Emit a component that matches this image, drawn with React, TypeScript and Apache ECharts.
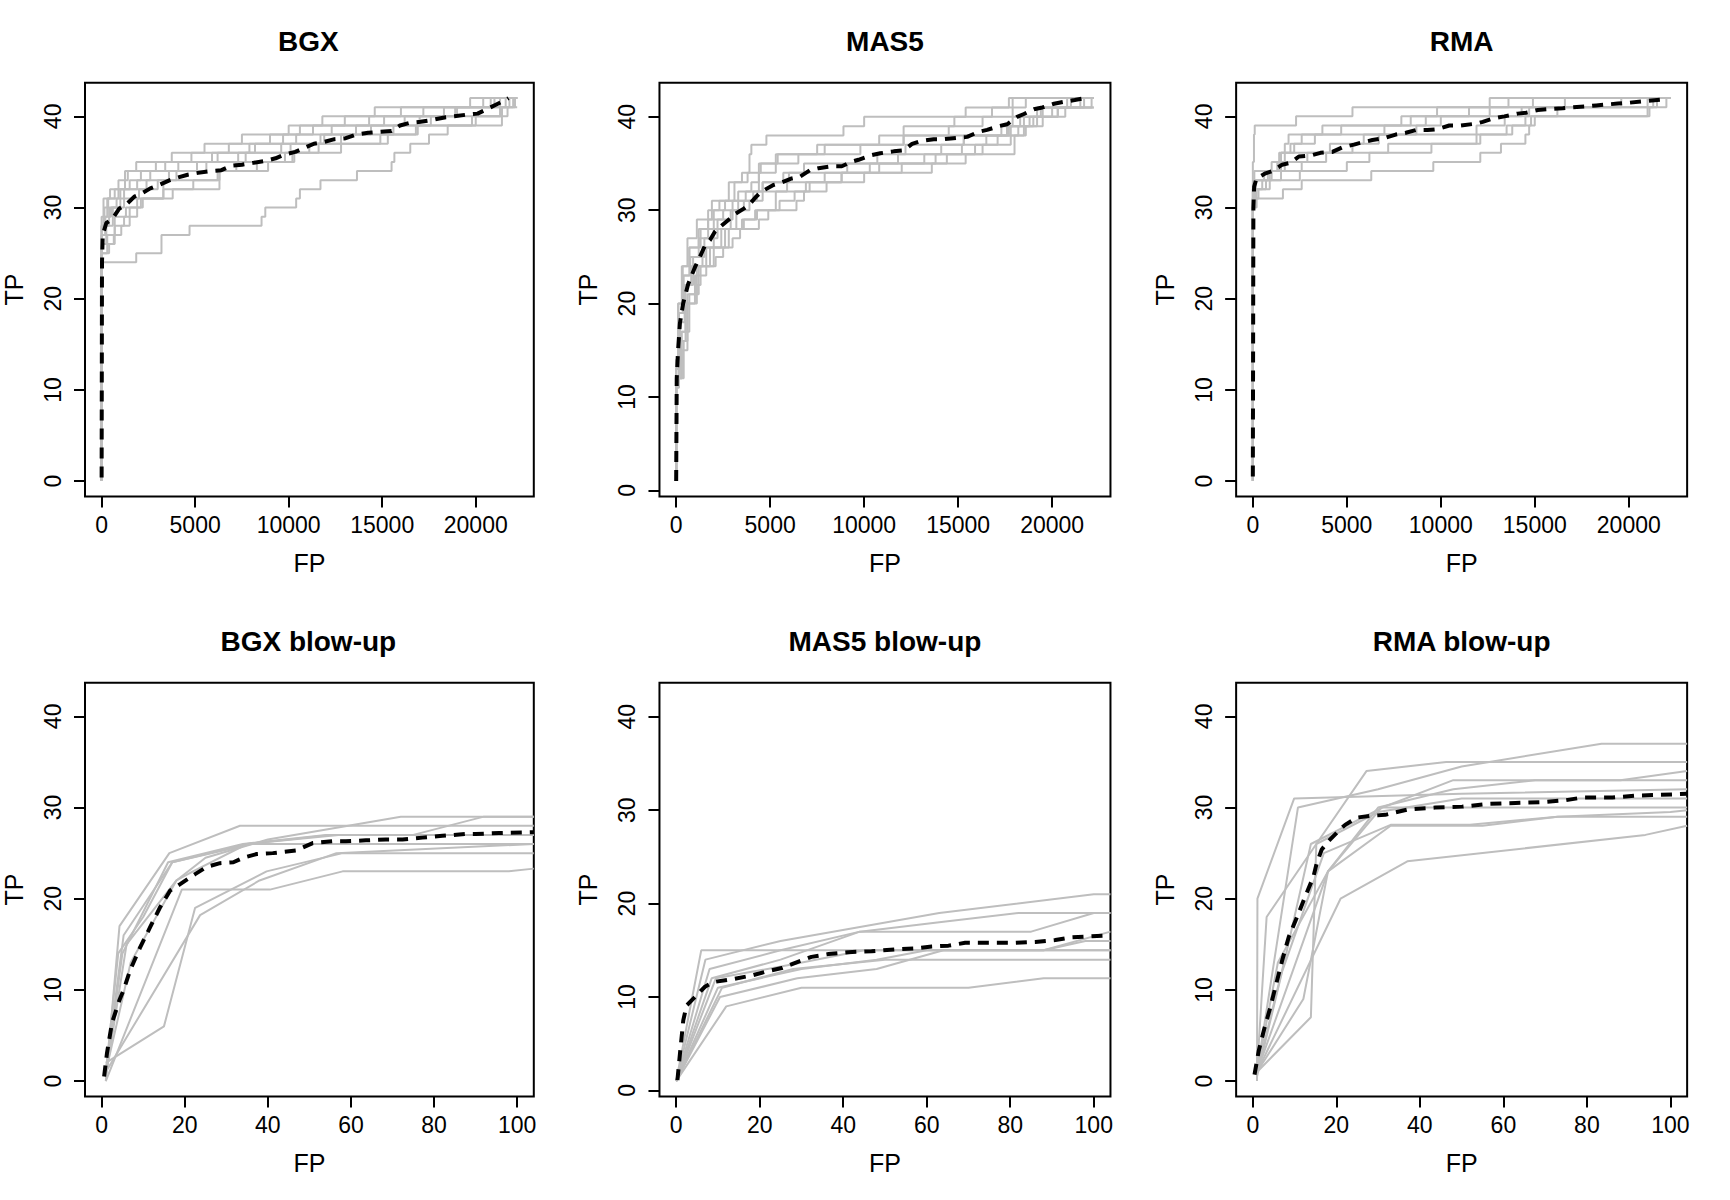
import React, { useEffect, useRef } from "react";
import * as echarts from "echarts";

// ---------- data ----------
const panelTitles = ["BGX", "MAS5", "RMA", "BGX blow-up", "MAS5 blow-up", "RMA blow-up"];
const fpTicksFull = [0, 5000, 10000, 15000, 20000];
const fpTicksBlow = [0, 20, 40, 60, 80, 100];
const tpTicks = [0, 10, 20, 30, 40];
const fpRangeFull = [0, 22215];
const fpRangeBlow = [0, 100];
const tpRangeFrom0 = [0, 42];
const tpRangeFrom1 = [1, 42];

const bgxRuns = [
  [[0,0],[0,29],[100,31],[450,32],[1250,34],[1850,35],[3750,36],[5500,37],[7500,38],[10000,39],[11800,40],[14600,41],[19700,42],[22215,42]],
  [[0,0],[0,28],[150,30],[350,31],[900,33],[1400,34],[2900,35],[4800,36],[6800,37],[9000,38],[10600,39],[13000,40],[17200,41],[20400,42],[22215,42]],
  [[0,0],[0,27],[200,29],[500,30],[1000,32],[1900,33],[2600,34],[4100,35],[6200,36],[8200,37],[10400,38],[12300,39],[15100,40],[18300,41],[21000,42],[22215,42]],
  [[0,0],[0,26],[250,28],[600,30],[1200,31],[2000,32],[3000,33],[4000,34],[5600,35],[7700,36],[10100,37],[11700,38],[14400,39],[17000,40],[19000,41],[21800,42],[22215,42]],
  [[0,0],[0,26],[300,27],[700,29],[1300,30],[2100,31],[3300,32],[4900,33],[6300,34],[8300,35],[10200,36],[12800,37],[15300,38],[16900,39],[20000,40],[21300,41],[22000,42],[22215,42]],
  [[0,0],[0,25],[300,26],[650,27],[1050,28],[1500,30],[2200,31],[3300,33],[6200,34],[8900,35],[10300,36],[11100,37],[12800,38],[15600,39],[17600,40],[21700,41],[22215,41]],
  [[0,0],[0,25],[400,26],[700,28],[1200,29],[1900,31],[3800,32],[6300,34],[7200,35],[9800,36],[11600,37],[14900,38],[16800,39],[19800,40],[21400,41],[22100,42],[22215,42]],
  [[0,0],[0,24],[1850,25],[3200,27],[4700,28],[8550,29],[8750,30],[10400,31],[10600,32],[11700,33],[13650,34],[15500,35],[15650,36],[16500,37],[17500,38],[18500,39],[21400,41],[21600,42],[22215,42]],
  [[0,0],[0,27],[200,28],[400,30],[800,31],[1200,32],[2400,33],[3600,34],[5100,35],[7300,36],[9600,37],[11900,38],[13600,39],[16200,40],[18900,41],[20800,42],[22215,42]],
  [[0,0],[0,28],[100,29],[300,31],[700,32],[1500,33],[2100,34],[3400,35],[5900,36],[7900,37],[9700,38],[11300,39],[14300,40],[16000,41],[21300,42],[22215,42]],
];
const bgxMean = [[0,0.4],[20,24],[60,27],[250,28.3],[550,28.7],[950,29.9],[1300,30.3],[1750,31.2],[2100,31.5],[2600,32.1],[3100,32.5],[3650,33.0],[4100,33.3],[4600,33.6],[5150,33.8],[5800,34.0],[6400,34.1],[6950,34.6],[7500,34.7],[8100,34.9],[8700,35.1],[9300,35.4],[9750,35.8],[10350,36.1],[10800,36.5],[11350,37.0],[11900,37.2],[12450,37.5],[13050,37.6],[13600,38.0],[14250,38.2],[14900,38.3],[15500,38.4],[15950,39.0],[16500,39.3],[17050,39.4],[17650,39.6],[18400,39.9],[18850,40.0],[19550,40.2],[20100,40.3],[20700,40.9],[21100,41.3],[21500,41.7],[21750,42]];

const mas5Runs = [
  [[0,1],[0,14],[100,20],[300,24],[600,27],[1100,29],[1900,31],[2800,33],[3500,34],[3900,36],[4000,37],[4800,38],[8900,39],[10000,40],[15400,41],[17700,42],[22215,42]],
  [[0,1],[0,12],[150,19],[400,23],[700,26],[1300,28],[2000,30],[2600,31],[3300,32],[4000,33],[4400,35],[5400,36],[7500,37],[12100,38],[14500,39],[16300,40],[17900,41],[18600,42],[22215,42]],
  [[0,1],[0,12],[200,17],[500,22],[900,25],[1500,27],[2200,29],[3000,31],[3700,32],[4400,34],[5300,35],[6500,36],[9800,37],[12100,38],[17300,39],[17900,40],[19500,41],[20800,42],[22215,42]],
  [[0,1],[0,13],[250,16],[500,20],[1000,23],[1600,26],[2400,28],[3200,30],[3900,31],[4600,33],[5700,34],[6800,35],[10700,36],[12200,37],[15300,38],[17700,39],[18300,40],[20000,41],[21500,42],[22215,42]],
  [[0,1],[0,12],[300,15],[600,21],[1100,24],[1800,26],[2600,28],[3500,29],[4300,30],[5300,32],[6900,33],[8800,34],[10800,35],[13800,36],[15200,37],[16500,38],[18200,39],[18800,40],[20700,41],[21700,42],[22215,42]],
  [[0,1],[0,12],[400,16],[600,20],[1100,22],[1300,24],[2100,25],[2500,26],[3000,27],[3400,28],[4400,29],[4900,30],[6400,31],[6800,32],[8000,33],[10000,34],[13600,35],[15400,36],[18000,38],[18500,39],[19000,40],[19400,41],[22215,41]],
  [[0,1],[0,13],[200,18],[450,22],[800,24],[1400,26],[2000,28],[2900,30],[3600,31],[4300,32],[5900,33],[7900,34],[10300,35],[13200,36],[15900,37],[17100,38],[17800,39],[19200,40],[20300,41],[22100,42],[22215,42]],
  [[0,1],[0,11],[150,19],[350,23],[750,25],[1200,27],[1700,29],[2500,30],[3300,31],[4100,32],[4600,33],[6000,34],[9100,35],[11800,36],[14100,37],[15300,38],[17600,39],[18500,40],[19200,41],[21000,42],[22215,42]],
  [[0,1],[0,13],[120,20],[350,24],[700,26],[1200,28],[1700,30],[2300,31],[3100,33],[3800,34],[4500,35],[5300,36],[7900,37],[10800,38],[12100,39],[14800,40],[16800,41],[17900,42],[22215,42]],
  [[0,1],[0,12],[300,17],[700,21],[1200,24],[2000,26],[2800,28],[3600,29],[4200,30],[5500,31],[6300,32],[7100,33],[8800,34],[12000,35],[14400,36],[16300,37],[17800,38],[18600,39],[19500,40],[20300,41],[22215,41]],
];
const mas5Mean = [[0,1],[30,12],[100,15],[200,17.9],[370,20],[550,21.4],[640,22.1],[820,23],[1000,23.9],[1260,25],[1530,26.2],[1800,26.8],[2060,27.7],[2330,28.2],[2860,29.1],[3130,29.6],[3620,30.2],[3930,30.7],[4280,31.5],[4550,32],[5170,32.7],[5530,32.9],[6150,33.4],[6590,33.6],[7130,34.3],[7570,34.5],[8280,34.7],[8810,34.7],[9350,35.2],[9700,35.4],[10410,35.9],[10860,36.1],[11570,36.3],[12100,36.4],[12550,37.1],[13000,37.4],[13700,37.6],[14230,37.6],[14940,37.75],[15480,37.85],[16100,38.4],[16540,38.6],[17170,39],[17610,39.2],[18140,40],[18500,40.3],[19030,40.8],[19480,41],[20100,41.4],[20630,41.6],[21200,41.8],[21750,42]];

const rmaRuns = [
  [[0,0],[0,35],[60,38],[100,39],[2300,40],[5300,41],[12600,42],[22215,42]],
  [[0,0],[0,32],[80,34],[1300,35],[1700,37],[1900,38],[3700,39],[7900,40],[9800,41],[13600,42],[22215,42]],
  [[0,0],[0,31],[100,33],[800,34],[1400,36],[2000,37],[2600,38],[7000,39],[8400,40],[12600,41],[14900,42],[22215,42]],
  [[0,0],[0,31],[150,33],[600,34],[1000,35],[1500,36],[4100,37],[5900,38],[8700,39],[10000,40],[14300,41],[21000,42],[22215,42]],
  [[0,0],[0,30],[100,32],[500,33],[1000,34],[1700,35],[2900,36],[5300,37],[6700,38],[11900,39],[13400,40],[14700,41],[19600,42],[22215,42]],
  [[0,0],[0,30],[200,32],[900,33],[1500,34],[2600,35],[3900,36],[7200,37],[12100,38],[13500,39],[15000,40],[21000,41],[21500,42],[22215,42]],
  [[0,0],[0,30],[50,31],[1600,32],[2600,33],[6300,34],[9600,35],[12100,36],[13200,37],[14500,38],[14700,39],[14800,40],[21100,41],[21300,42],[22215,42]],
  [[0,0],[0,31],[300,32],[700,33],[2500,34],[5000,35],[6200,36],[9500,37],[11900,38],[13800,39],[14500,40],[16200,41],[22000,42],[22215,42]],
  [[0,0],[0,32],[120,33],[900,34],[1500,36],[2200,37],[3300,38],[4700,39],[9200,40],[11500,41],[16600,42],[22215,42]],
];
const rmaMean = [[0,0.5],[30,30],[70,32.3],[200,33.2],[675,33.75],[1030,34],[1560,34.7],[2000,34.9],[2450,35.6],[3070,35.7],[3600,36.0],[4230,36.1],[4760,36.6],[5380,36.9],[5740,37.1],[6360,37.4],[6980,37.6],[7600,38.0],[8140,38.2],[8670,38.5],[9290,38.5],[9830,38.6],[10450,39.0],[11070,39.0],[11870,39.2],[12230,39.4],[12850,39.8],[13380,40.0],[14090,40.3],[14540,40.4],[15160,40.7],[15780,40.8],[16490,40.9],[17020,41.0],[17730,41.1],[18270,41.2],[18800,41.3],[19420,41.4],[20040,41.5],[21000,41.7],[22030,41.9]];

const bgxBlowRuns = [
  [[1,0],[4.3,17],[16.3,25],[33.3,28],[104,28]],
  [[1,1],[5.3,16],[17,24],[35,26],[55,27],[75,27],[92,29],[104,29]],
  [[1,0.5],[6,15],[18,22],[25,24.5],[40,26.5],[72,29],[104,29]],
  [[1,1],[7,13],[18,22],[22,23],[35,26],[57,27],[104,27]],
  [[1,2],[15,6],[22.5,19],[39.7,23],[58,25],[104,25]],
  [[1,1],[23.7,18.2],[38,22],[56.5,25],[104,26]],
  [[1,0],[19.3,21],[40.5,21],[58,23],[98,23],[104,23.3]],
  [[1,0.5],[5,14],[16,24],[34,26],[54,27],[104,27]],
  [[1,1],[4,14],[10,18],[17,24],[36,26],[60,26],[104,26]],
];
const bgxBlowMean = [[0.6,0.5],[1.3,3.1],[2.5,6.4],[4.3,8.9],[5.3,10],[6.9,12.2],[9.3,14.7],[11.7,16.9],[14.1,19.1],[16.5,20.9],[18.9,21.6],[22.5,22.7],[25.3,23.5],[28.5,23.9],[31.7,24.0],[34.1,24.5],[37.3,24.9],[41.2,25.0],[46.8,25.3],[50.8,26.1],[55.6,26.3],[58.8,26.3],[63.6,26.4],[68.4,26.5],[72.4,26.5],[77.2,26.7],[82,26.9],[87.6,27.1],[90,27.1],[95.6,27.2],[104,27.3]];

const mas5BlowRuns = [
  [[0,1],[6,15],[104,15]],
  [[0,1],[7,14],[25,16],[63,19],[100,21],[104,21]],
  [[0,1],[8,13],[25,15],[44,17],[63,18],[82,19],[104,19]],
  [[0,1],[8.5,12],[25,14],[44,17],[85,17],[100,19],[104,19]],
  [[0,1],[9.5,12],[28,13.5],[45,15],[88,15],[104,17]],
  [[0,1],[10,11],[30,13],[48,14],[60,15],[88,15],[98,16],[104,16]],
  [[0,1],[11,11],[28,13],[50,14],[104,14]],
  [[0,1],[12,9],[30,11],[70,11],[88,12],[104,12]],
  [[0,1],[10.5,10],[29,12],[48,13],[64,15],[104,15]],
];
const mas5BlowMean = [[0.3,1.1],[0.9,3.9],[1.7,7.5],[2.5,9.1],[4.5,10],[6.9,11.1],[8.9,11.6],[13.3,11.9],[18.1,12.3],[21.3,12.7],[25.3,13.1],[29.3,13.8],[32.4,14.3],[36.5,14.6],[41.2,14.8],[46.8,14.9],[52.5,15.1],[57.2,15.2],[61.2,15.4],[65.2,15.5],[69.2,15.8],[74.8,15.8],[81.2,15.8],[86,15.9],[90.8,16.1],[94.8,16.4],[104,16.6]];

const rmaBlowRuns = [
  [[1,0],[1.1,20],[9.9,31],[50,31.5],[104,32]],
  [[1,1],[3.3,18],[15.2,26],[27.2,34],[46.3,35],[104,35]],
  [[1,1],[10.8,30],[30,32],[50,34.5],[83.5,37],[104,37]],
  [[1,1],[8,14],[13.9,26],[31,30],[48,33],[104,33]],
  [[1,1],[13.9,7],[15.2,26],[30,29.5],[50,31],[104,31]],
  [[1,1],[12.1,9],[18,23],[30.8,30],[104,30]],
  [[1,0.5],[7,12],[17,25],[33,28.1],[52,28.1],[73,29],[104,29]],
  [[1,1],[6,13],[18,23],[30,30],[48,32],[67.6,33],[88,33],[104,34]],
  [[1,1],[21,20],[37,24.1],[94,27],[104,28]],
  [[1,1],[18,23],[33,28],[55,28],[73,29],[100,29.5],[104,29.7]],
];
const rmaBlowMean = [[0.4,0.7],[1.4,3.3],[2.6,5.5],[4.2,8.1],[5.4,10.3],[7,13.2],[8.6,15.8],[10.6,18],[12.5,20.2],[14.5,22.4],[15.3,23.9],[16.5,25.4],[18.1,26.3],[20.9,27.6],[22.1,28.1],[24.9,28.9],[28.5,29.1],[31.7,29.2],[37.3,29.8],[43.7,30.0],[50.1,30.1],[56.5,30.4],[62.9,30.5],[69.3,30.6],[74.9,30.8],[78.9,31.1],[81.3,31.1],[86.1,31.1],[91.5,31.3],[104,31.5]];

// ---------- layout / style ----------
const W = 1730;
const H = 1200;
const FONT = '"Liberation Sans", Arial, Helvetica, sans-serif';
const BOX_LEFT = 82.8;
const BOX_TOP = 82.8;
const BOX_W = 451;
const BOX_H = 413.6;
const GRAY = "#BEBEBE";

function padRange(r: number[]) {
  const d = r[1] - r[0];
  return [r[0] - 0.04 * d, r[1] + 0.04 * d];
}

const panels = [
  { runs: bgxRuns, mean: bgxMean, fpRange: fpRangeFull, fpTicks: fpTicksFull, tpRange: tpRangeFrom0, step: true },
  { runs: mas5Runs, mean: mas5Mean, fpRange: fpRangeFull, fpTicks: fpTicksFull, tpRange: tpRangeFrom1, step: true },
  { runs: rmaRuns, mean: rmaMean, fpRange: fpRangeFull, fpTicks: fpTicksFull, tpRange: tpRangeFrom0, step: true },
  { runs: bgxBlowRuns, mean: bgxBlowMean, fpRange: fpRangeBlow, fpTicks: fpTicksBlow, tpRange: tpRangeFrom0, step: false },
  { runs: mas5BlowRuns, mean: mas5BlowMean, fpRange: fpRangeBlow, fpTicks: fpTicksBlow, tpRange: tpRangeFrom1, step: false },
  { runs: rmaBlowRuns, mean: rmaBlowMean, fpRange: fpRangeBlow, fpTicks: fpTicksBlow, tpRange: tpRangeFrom0, step: false },
];

const plain = (v: number) => String(Math.round(v));

function buildOption() {
  const grids: any[] = [];
  const xAxes: any[] = [];
  const yAxes: any[] = [];
  const series: any[] = [];
  const graphics: any[] = [];

  panels.forEach((p, i) => {
    const col = i % 3;
    const row = Math.floor(i / 3);
    const left = col * (W / 3) + BOX_LEFT;
    const top = row * (H / 2) + BOX_TOP;
    grids.push({
      left, top, width: BOX_W, height: BOX_H,
      show: true, borderColor: "#000", borderWidth: 2, backgroundColor: "transparent",
      containLabel: false,
    });
    const xr = padRange(p.fpRange);
    const yr = padRange(p.tpRange);
    xAxes.push({
      type: "value", gridIndex: i, min: xr[0], max: xr[1],
      axisLine: { show: false, onZero: false },
      splitLine: { show: false },
      axisTick: { show: true, length: 11, lineStyle: { color: "#000", width: 2 }, customValues: p.fpTicks },
      axisLabel: { customValues: p.fpTicks, formatter: plain, fontSize: 23, color: "#000", fontFamily: FONT, margin: 17 },
      name: "FP", nameLocation: "middle", nameGap: 54,
      nameTextStyle: { fontSize: 25, color: "#000", fontFamily: FONT },
    });
    yAxes.push({
      type: "value", gridIndex: i, min: yr[0], max: yr[1],
      axisLine: { show: false, onZero: false },
      splitLine: { show: false },
      axisTick: { show: true, length: 11, lineStyle: { color: "#000", width: 2 }, customValues: tpTicks },
      axisLabel: { customValues: tpTicks, formatter: plain, fontSize: 23, color: "#000", fontFamily: FONT, margin: 21, rotate: 90 },
      name: "TP", nameLocation: "middle", nameGap: 59, nameRotate: 90,
      nameTextStyle: { fontSize: 25, color: "#000", fontFamily: FONT },
    });
    p.runs.forEach((run) => {
      series.push({
        type: "line", xAxisIndex: i, yAxisIndex: i, data: run,
        step: p.step ? "end" : false,
        symbol: "none", showSymbol: false, silent: true, clip: true,
        lineStyle: { color: GRAY, width: 2 },
        emphasis: { disabled: true }, z: 2,
      });
    });
    series.push({
      type: "line", xAxisIndex: i, yAxisIndex: i, data: p.mean,
      symbol: "none", showSymbol: false, silent: true, clip: true,
      lineStyle: { color: "#000", width: 4, type: [11, 8] },
      emphasis: { disabled: true }, z: 3,
    });
    graphics.push({
      type: "text",
      x: left + BOX_W / 2,
      y: top - 41,
      style: {
        text: panelTitles[i],
        font: `bold 28px ${FONT}`,
        fill: "#000",
        align: "center",
        verticalAlign: "middle",
      },
    });
  });

  return {
    animation: false,
    backgroundColor: "#fff",
    grid: grids,
    xAxis: xAxes,
    yAxis: yAxes,
    series,
    graphic: graphics,
  };
}

export default function App() {
  const ref = useRef<HTMLDivElement>(null);
  useEffect(() => {
    if (!ref.current) return;
    const chart = echarts.init(ref.current, null, { renderer: "svg", width: W, height: H });
    chart.setOption(buildOption() as any);
    return () => chart.dispose();
  }, []);
  return (
    <div
      ref={ref}
      style={{ position: "fixed", left: 0, top: 0, width: W, height: H, background: "#fff" }}
    />
  );
}
